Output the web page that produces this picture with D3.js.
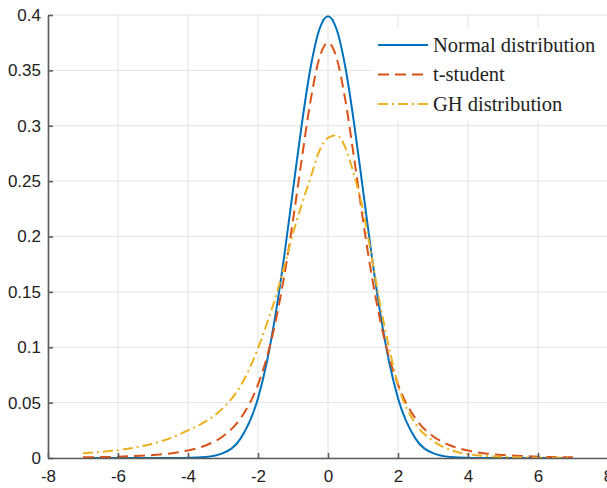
<!DOCTYPE html>
<html>
<head>
<meta charset="utf-8">
<script src="https://cdn.jsdelivr.net/npm/d3@7"></script>
<style>
  body { margin: 0; background: #fff; }
  svg { display: block; }
  .tick text { font-family: "Liberation Sans", Arial, sans-serif; font-size: 17px; fill: #222; }
  .legend text { font-family: "Liberation Serif", "Times New Roman", serif; font-size: 20.5px; fill: #222; }
</style>
</head>
<body>
<svg id="chart"></svg>
<script>
// sample points on the x axis (shared by all three curves)
var xs = [-7, -6.5, -6, -5.5, -5, -4.5, -4, -3.5, -3, -2.5, -2, -1.75, -1.5, -1.25, -1, -0.75, -0.5, -0.25,
          0, 0.25, 0.5, 0.75, 1, 1.25, 1.5, 1.75, 2, 2.5, 3, 3.5, 4, 4.5, 5, 5.5, 6, 6.5, 7];

var normalVals = [0, 0, 0, 0, 0.0000015, 0.000016, 0.00013, 0.00087, 0.0044, 0.0175, 0.054, 0.0863, 0.1295, 0.1826, 0.242, 0.3011, 0.3521, 0.3867,
                  0.3989, 0.3867, 0.3521, 0.3011, 0.242, 0.1826, 0.1295, 0.0863, 0.054, 0.0175, 0.0044, 0.00087, 0.00013, 0.000016, 0.0000015, 0, 0, 0, 0];

var tVals = [0.0006, 0.0008, 0.0012, 0.0018, 0.0027, 0.0041, 0.0067, 0.0113, 0.0197, 0.0357, 0.0663, 0.0905, 0.1229, 0.1644, 0.2147, 0.2699, 0.3223, 0.3607,
             0.375, 0.3607, 0.3223, 0.2699, 0.2147, 0.1644, 0.1229, 0.0905, 0.0663, 0.0357, 0.0197, 0.0113, 0.0067, 0.0041, 0.0027, 0.0018, 0.0012, 0.0008, 0.0006];

var ghVals = [0.0042, 0.0055, 0.007, 0.0095, 0.013, 0.018, 0.025, 0.033, 0.045, 0.065, 0.099, 0.121, 0.145, 0.173, 0.203, 0.229, 0.253, 0.277,
              0.289, 0.2915, 0.280, 0.255, 0.224, 0.181, 0.137, 0.099, 0.066, 0.031, 0.0155, 0.0072, 0.0034, 0.0018, 0.001, 0.0006, 0.0003, 0.0002, 0.0001];

var seriesNames = ["Normal distribution", "t-student", "GH distribution"];
var seriesColors = ["#0072BD", "#D95319", "#EDB120"];
var seriesDash = [null, "11,6", "10,4,2,4"];

var xTicks = [-8, -6, -4, -2, 0, 2, 4, 6, 8];
var yTicks = [0, 0.05, 0.1, 0.15, 0.2, 0.25, 0.3, 0.35, 0.4];

var w = 607, h = 488;
var svg = d3.select("#chart").attr("width", w).attr("height", h);

var x = d3.scaleLinear().domain([-8, 8]).range([48, 608]);
var y = d3.scaleLinear().domain([0, 0.4]).range([458, 15]);

// grid
svg.append("g").selectAll("line.vg")
    .data(xTicks)
    .enter().append("line")
    .attr("x1", function(d) { return x(d); })
    .attr("x2", function(d) { return x(d); })
    .attr("y1", y(0)).attr("y2", y(0.4))
    .attr("stroke", "#e3e3e3").attr("stroke-width", 1);

svg.append("g").selectAll("line.hg")
    .data(yTicks)
    .enter().append("line")
    .attr("x1", x(-8)).attr("x2", x(8))
    .attr("y1", function(d) { return y(d); })
    .attr("y2", function(d) { return y(d); })
    .attr("stroke", "#e3e3e3").attr("stroke-width", 1);

// curves
var allSeries = [normalVals, tVals, ghVals];
var line = d3.line()
    .x(function(d) { return x(d[0]); })
    .y(function(d) { return y(d[1]); })
    .curve(d3.curveMonotoneX);

allSeries.forEach(function(vals, i) {
    var pts = xs.map(function(v, j) { return [v, vals[j]]; });
    svg.append("path")
        .datum(pts)
        .attr("d", line)
        .attr("fill", "none")
        .attr("stroke", seriesColors[i])
        .attr("stroke-width", 2)
        .attr("stroke-dasharray", seriesDash[i]);
});

// axes (ticks pointing inward, matlab style)
var xAxis = svg.append("g")
    .attr("transform", "translate(0," + y(0) + ")")
    .call(d3.axisBottom(x).tickValues(xTicks).tickSizeInner(-5).tickSizeOuter(0).tickPadding(12)
        .tickFormat(function(d) { return d < 0 ? "-" + Math.abs(d) : d; }));

var yAxis = svg.append("g")
    .attr("transform", "translate(" + x(-8) + ",0)")
    .call(d3.axisLeft(y).tickValues(yTicks).tickSizeInner(-5).tickSizeOuter(0).tickPadding(7)
        .tickFormat(function(d) { return d3.format("")(+d.toFixed(2)); }));

[xAxis, yAxis].forEach(function(a) {
    a.select(".domain").attr("stroke", "#5c5c5c").attr("stroke-width", 1.6);
    a.selectAll(".tick line").attr("stroke", "#5c5c5c").attr("stroke-width", 1.6);
});
xAxis.selectAll(".tick text").attr("dy", "0.71em");

// legend
var legend = svg.append("g").attr("class", "legend");
legend.append("rect")
    .attr("x", 372).attr("y", 28)
    .attr("width", 240).attr("height", 92)
    .attr("fill", "#fff");

seriesNames.forEach(function(name, i) {
    var ly = 45 + i * 29.5;
    legend.append("line")
        .attr("x1", 378).attr("x2", 428)
        .attr("y1", ly).attr("y2", ly)
        .attr("stroke", seriesColors[i])
        .attr("stroke-width", 2)
        .attr("stroke-dasharray", seriesDash[i]);
    legend.append("text")
        .attr("x", 433).attr("y", ly)
        .attr("dy", "0.33em")
        .text(name);
});
</script>
</body>
</html>
